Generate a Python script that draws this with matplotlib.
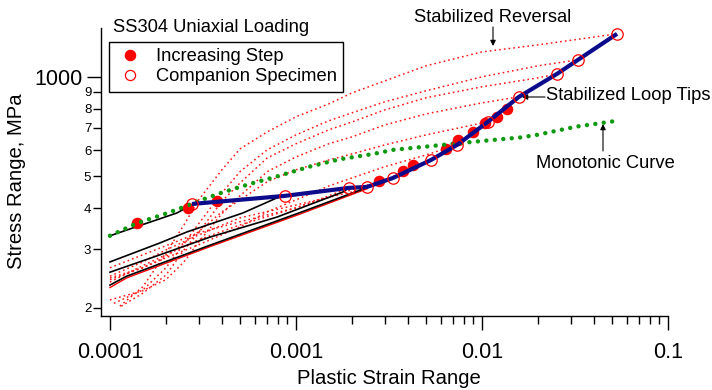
import matplotlib
matplotlib.use('Agg')
import matplotlib.pyplot as plt
from matplotlib.lines import Line2D
from matplotlib.ticker import FixedLocator, FixedFormatter

plt.rcParams['font.family'] = ['Liberation Sans', 'DejaVu Sans']

# ---------------- data ----------------
inc_x = [1.405e-4, 2.636e-4, 3.775e-4, 2.794e-3, 3.775e-3, 4.272e-3, 6.405e-3,
         7.46e-3, 8.98e-3, 1.038e-2, 1.2e-2, 1.363e-2]
inc_y = [360, 401, 421, 484, 519, 541, 605, 644, 683, 725, 758, 800]

comp_x = [2.76e-4, 8.73e-4, 1.928e-3, 2.408e-3, 3.323e-3, 5.32e-3, 7.34e-3,
          1.077e-2, 1.581e-2, 2.531e-2, 3.282e-2, 5.32e-2]
comp_y = [412, 436, 461, 464, 494, 560, 622, 731, 870, 1021, 1126, 1350]

tips_x = comp_x
tips_y = comp_y

mono_x = [1.0e-4, 1.391e-4, 2.018e-4, 2.478e-4, 3.047e-4, 3.903e-4, 5.656e-4,
          7.875e-4, 1.19e-3, 1.724e-3, 2.604e-3, 3.335e-3, 5.043e-3, 7.614e-3,
          1.150e-2, 1.601e-2, 1.969e-2, 3.229e-2, 5.406e-2]
mono_y = [330, 360, 386, 403, 422, 444, 474, 499, 535, 563, 584, 601, 615, 630,
          644, 655, 667, 707, 737]

# stabilized reversal curves (red dotted)
rev_A_x = [1.13e-4, 1.5e-4, 2e-4, 2.5e-4, 3e-4, 4e-4, 5e-4, 7e-4, 1e-3, 1.5e-3, 2e-3, 3e-3, 5e-3, 1e-2, 2e-2, 5.32e-2]
rev_A_y = [202, 231, 293, 356, 424, 523, 605, 681, 757, 828, 894, 972, 1080, 1190, 1250, 1350]
rev_B_x = [1.05e-4, 1.5e-4, 2e-4, 2.5e-4, 3e-4, 4e-4, 5e-4, 7e-4, 1e-3, 1.5e-3, 2e-3, 3e-3, 5e-3, 1e-2, 2e-2, 3.282e-2]
rev_B_y = [206, 226, 264, 312, 359, 445, 516, 601, 667, 736, 778, 840, 907, 1000, 1080, 1126]
rev_C_x = [1.15e-4, 1.5e-4, 2e-4, 2.5e-4, 3e-4, 4e-4, 5e-4, 7e-4, 1e-3, 1.5e-3, 2e-3, 3e-3, 5e-3, 1e-2, 2e-2, 2.531e-2]
rev_C_y = [202, 221, 251, 299, 338, 420, 477, 568, 627, 691, 730, 794, 864, 933, 993, 1021]
rev_D_x = [1.0e-4, 1.5e-4, 2e-4, 2.5e-4, 3e-4, 4e-4, 5e-4, 7e-4, 1e-3, 1.5e-3, 2e-3, 3e-3, 5e-3, 1e-2, 1.581e-2]
rev_D_y = [211, 225, 243, 275, 316, 385, 436, 516, 572, 627, 658, 715, 772, 834, 870]
rev_E_x = [1.0e-4, 1.5e-4, 2e-4, 3e-4, 4e-4, 5e-4, 7e-4, 1e-3, 1.5e-3, 2e-3, 3e-3, 5e-3, 1.077e-2]
rev_E_y = [243, 264, 285, 340, 390, 424, 481, 523, 560, 584, 622, 667, 731]
rev_F_x = [1.0e-4, 1.5e-4, 2e-4, 3e-4, 5e-4, 7e-4, 1e-3, 1.5e-3, 2e-3, 3e-3, 5e-3, 7.34e-3]
rev_F_y = [246, 264, 283, 310, 351, 390, 424, 467, 494, 534, 580, 622]
rev_G_x = [1.0e-4, 1.5e-4, 2e-4, 3e-4, 5e-4, 1e-3, 2e-3, 3e-3, 4e-3, 5.32e-3]
rev_G_y = [239, 268, 289, 321, 356, 401, 455, 487, 523, 560]
rev_H_x = [1.0e-4, 1.5e-4, 2e-4, 3e-4, 5e-4, 1e-3, 2e-3, 3.323e-3]
rev_H_y = [249, 275, 299, 332, 374, 409, 448, 494]
rev_I_x = [1.0e-4, 2e-4, 3e-4, 5e-4, 1e-3, 1.5e-3, 1.928e-3]
rev_I_y = [264, 308, 337, 364, 401, 436, 461]

# black (increasing-step loop) curves
blk1_x = [1.0e-4, 1.397e-4, 1.789e-4, 2.292e-4, 2.53e-4, 2.636e-4]
blk1_y = [330, 352, 369, 387, 399, 401]
blk2_x = [1.0e-4, 1.857e-4, 2.594e-4, 5.189e-4, 7.904e-4, 8.73e-4]
blk2_y = [275, 314, 339, 387, 430, 436]
blk3_x = [1.0e-4, 1.857e-4, 3.449e-4, 7.904e-4, 1.789e-3, 1.928e-3]
blk3_y = [256, 289, 327, 376, 448, 461]
blk4_x = [1.0e-4, 1.23e-4, 3.449e-4, 1.051e-3, 2.408e-3]
blk4_y = [234, 249, 309, 388, 462]
red4_y = [230, 246, 306, 384, 458]

x_major = [1e-4, 1e-3, 1e-2, 1e-1]
x_major_labels = ['0.0001', '0.001', '0.01', '0.1']
y_major = [1000]
y_major_labels = ['1000']
y_minor = [200, 300, 400, 500, 600, 700, 800, 900]
y_minor_labels = ['2', '3', '4', '5', '6', '7', '8', '9']

# ---------------- figure ----------------
W, H = 712, 390
fig = plt.figure(figsize=(W / 100, H / 100), dpi=100)
L, R, T, B = 101, 668, 28, 316
ax = fig.add_axes([L / W, 1 - B / H, (R - L) / W, (B - T) / H])
ax.set_xscale('log')
ax.set_yscale('log')
ax.set_xlim(8.95e-5, 0.1)
ax.set_ylim(188.6, 1406)

red_dot = dict(color='#ff1a1a', lw=1.1, linestyle=(0, (1.1, 2.0)), zorder=2)
for xs, ys in [(rev_A_x, rev_A_y), (rev_B_x, rev_B_y), (rev_C_x, rev_C_y),
               (rev_D_x, rev_D_y), (rev_E_x, rev_E_y), (rev_F_x, rev_F_y),
               (rev_G_x, rev_G_y), (rev_H_x, rev_H_y), (rev_I_x, rev_I_y)]:
    ax.plot(xs, ys, **red_dot)

ax.plot(blk4_x, red4_y, color='#ff0000', lw=1.0, zorder=3)
for xs, ys in [(blk1_x, blk1_y), (blk2_x, blk2_y), (blk3_x, blk3_y), (blk4_x, blk4_y)]:
    ax.plot(xs, ys, color='black', lw=1.2, zorder=3)

ax.plot(inc_x, inc_y, linestyle='none', marker='o', ms=7.3, mfc='#ff0000',
        mec='#ff0000', zorder=4)
ax.plot(mono_x, mono_y, color='#119a11', lw=3.2, linestyle=(0, (0.01, 1.9)),
        dash_capstyle='round', zorder=5)
ax.plot(tips_x, tips_y, color='#0b0b8c', lw=3.0, solid_capstyle='butt', zorder=6)
ax.plot(comp_x, comp_y, linestyle='none', marker='o', ms=8.2, mfc='none',
        mec='#ff0000', mew=0.9, zorder=7)

# ---------------- axes styling ----------------
for s in ['top', 'right']:
    ax.spines[s].set_visible(False)
for s in ['left', 'bottom']:
    ax.spines[s].set_linewidth(1.0)

ax.xaxis.set_major_locator(FixedLocator(x_major))
ax.xaxis.set_major_formatter(FixedFormatter(x_major_labels))
x_minor = [k * 10.0 ** e for e in (-4, -3, -2) for k in range(2, 10)]
ax.xaxis.set_minor_locator(FixedLocator(x_minor))
ax.xaxis.set_minor_formatter(FixedFormatter([''] * len(x_minor)))

ax.yaxis.set_major_locator(FixedLocator(y_major))
ax.yaxis.set_major_formatter(FixedFormatter(y_major_labels))
ax.yaxis.set_minor_locator(FixedLocator(y_minor))
ax.yaxis.set_minor_formatter(FixedFormatter(y_minor_labels))

ax.tick_params(axis='both', which='major', direction='out', length=10, width=1.0,
               labelsize=15.5, color='black')
ax.tick_params(axis='both', which='minor', direction='out', length=5.5, width=1.0)
ax.tick_params(axis='x', which='major', pad=9)
ax.tick_params(axis='y', which='major', pad=3)
ax.tick_params(axis='y', which='minor', labelsize=9.5, pad=1.5)

ax.set_xlabel('Plastic Strain Range', fontsize=14.6)
ax.xaxis.set_label_coords((389 - L) / (R - L), (B - 378) / (B - T))
ax.set_ylabel('Stress Range, MPa', fontsize=14.6)
ax.yaxis.set_label_coords((16 - L) / (R - L), (B - 181) / (B - T))
ax.xaxis.label.set_va('center')
ax.yaxis.label.set_va('center')

def fx(px):
    return (px - L) / (R - L)

def fy(py):
    return (B - py) / (B - T)

ax.text(fx(113), fy(28), 'SS304 Uniaxial Loading', transform=ax.transAxes,
        fontsize=13.2, ha='left', va='center', clip_on=False)

# legend
handles = [Line2D([], [], linestyle='none', marker='o', ms=7.3, mfc='#ff0000', mec='#ff0000'),
           Line2D([], [], linestyle='none', marker='o', ms=7.3, mfc='none', mec='#ff0000', mew=0.9)]
leg = ax.legend(handles, ['Increasing Step', 'Companion Specimen'], loc='upper left',
                bbox_to_anchor=(fx(109), fy(42)), borderaxespad=0, fontsize=13.2,
                frameon=True, fancybox=False, edgecolor='black', framealpha=1,
                handlelength=1.6, handletextpad=0.6, borderpad=0.35, labelspacing=0.15)
leg.get_frame().set_linewidth(1.0)

# annotations
arrow = dict(arrowstyle='-|>', color='black', lw=0.8, mutation_scale=8,
             shrinkA=0, shrinkB=0)
ax.text(fx(493), fy(17), 'Stabilized Reversal', transform=ax.transAxes,
        fontsize=13.2, ha='center', va='center', clip_on=False)
ax.annotate('', xy=(fx(493), fy(46)), xytext=(fx(493), fy(27)),
            xycoords='axes fraction', textcoords='axes fraction', arrowprops=arrow)
ax.text(fx(546), fy(96), 'Stabilized Loop Tips', transform=ax.transAxes,
        fontsize=13.2, ha='left', va='center', clip_on=False)
ax.annotate('', xy=(fx(522), fy(97)), xytext=(fx(545), fy(97)),
            xycoords='axes fraction', textcoords='axes fraction', arrowprops=arrow)
ax.text(fx(536), fy(163), 'Monotonic Curve', transform=ax.transAxes,
        fontsize=13.2, ha='left', va='center', clip_on=False)
ax.annotate('', xy=(fx(603), fy(124)), xytext=(fx(603), fy(151)),
            xycoords='axes fraction', textcoords='axes fraction', arrowprops=arrow)

fig.savefig('out.png', dpi=100)
